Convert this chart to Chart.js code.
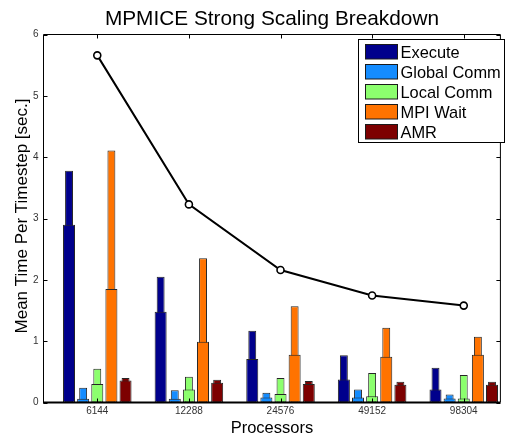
<!DOCTYPE html>
<html><head><meta charset="utf-8">
<script src="https://cdn.jsdelivr.net/npm/chart.js@4"></script>
<style>html,body{margin:0;padding:0;background:#fff;}#wrap{position:relative;width:506px;height:436px;}</style>
</head><body><div id="wrap"><canvas id="c" width="506" height="436"></canvas></div>
<script>
const chartTitle = 'MPMICE Strong Scaling Breakdown';
const xLabel = 'Processors';
const yLabel = 'Mean Time Per Timestep [sec.]';
const processors = ['6144', '12288', '24576', '49152', '98304'];
const seriesNames = ['Execute', 'Global Comm', 'Local Comm', 'MPI Wait', 'AMR'];
const seriesColors = ['#00008c', '#148cff', '#8cff6e', '#ff7300', '#7d0000'];
// wide bars (average) and narrow bars (maximum)
const executeAvg = [2.90, 1.48, 0.71, 0.375, 0.21];
const executeMax = [3.78, 2.05, 1.17, 0.77, 0.565];
const globalAvg = [0.06, 0.06, 0.08, 0.08, 0.065];
const globalMax = [0.24, 0.20, 0.16, 0.21, 0.13];
const localAvg = [0.30, 0.21, 0.14, 0.10, 0.065];
const localMax = [0.55, 0.42, 0.40, 0.48, 0.45];
const mpiAvg = [1.85, 0.99, 0.78, 0.745, 0.78];
const mpiMax = [4.11, 2.35, 1.57, 1.22, 1.07];
const amrAvg = [0.36, 0.32, 0.30, 0.29, 0.29];
const amrMax = [0.40, 0.37, 0.35, 0.34, 0.34];
const totalTime = [5.66, 3.23, 2.16, 1.745, 1.58];
const yTicks = [0, 1, 2, 3, 4, 5, 6];

const avgSeries = [executeAvg, globalAvg, localAvg, mpiAvg, amrAvg];
const maxSeries = [executeMax, globalMax, localMax, mpiMax, amrMax];
const FONT = '"Liberation Sans", Arial, Helvetica, sans-serif';
const toPts = arr => arr.map((v, i) => ({x: i + 1, y: v}));

const datasets = [];
datasets.push({
  type: 'line', label: 'Total', data: toPts(totalTime), order: 0,
  borderColor: '#000', borderWidth: 2, tension: 0, fill: false,
  pointRadius: 3.5, pointBorderWidth: 1.6, pointBackgroundColor: '#fff', pointBorderColor: '#000'
});
seriesNames.forEach((name, s) => {
  datasets.push({
    type: 'bar', label: name, data: toPts(avgSeries[s]), stack: name, order: 1, legendEntry: true,
    backgroundColor: seriesColors[s], borderColor: '#262626', borderWidth: 1, borderSkipped: false,
    categoryPercentage: 0.771, barPercentage: 0.85
  });
  datasets.push({
    type: 'bar', label: name + ' max', data: toPts(maxSeries[s]), stack: name, order: 2,
    backgroundColor: seriesColors[s], borderColor: '#262626', borderWidth: 1, borderSkipped: false,
    categoryPercentage: 0.771, barPercentage: 0.56
  });
});

const framePlugin = {
  id: 'frame',
  afterDatasetsDraw(chart) {
    const ctx = chart.ctx;
    const {left, right, top, bottom} = chart.chartArea;
    const xs = chart.scales.x, ys = chart.scales.y;
    ctx.save();
    ctx.strokeStyle = '#000';
    ctx.lineWidth = 1;
    ctx.beginPath();
    ctx.moveTo(left, top); ctx.lineTo(right, top);
    ctx.moveTo(left, top); ctx.lineTo(left, bottom);
    ctx.moveTo(right, top); ctx.lineTo(right, bottom);
    ys.ticks.forEach(t => {
      const py = Math.round(ys.getPixelForValue(t.value)) + 0.5;
      ctx.moveTo(left, py); ctx.lineTo(left + 4, py);
      ctx.moveTo(right, py); ctx.lineTo(right - 4, py);
    });
    xs.ticks.forEach(t => {
      const px = Math.round(xs.getPixelForValue(t.value)) + 0.5;
      ctx.moveTo(px, top); ctx.lineTo(px, top + 4);
      ctx.moveTo(px, bottom); ctx.lineTo(px, bottom - 4);
    });
    ctx.stroke();
    ctx.lineWidth = 2;
    ctx.beginPath();
    ctx.moveTo(left - 0.5, bottom); ctx.lineTo(right, bottom);
    ctx.stroke();
    ctx.restore();
  },
  afterDraw(chart) {
    const ctx = chart.ctx;
    const {left, right} = chart.chartArea;
    ctx.save();
    ctx.fillStyle = '#000';
    ctx.textBaseline = 'alphabetic';
    ctx.textAlign = 'center';
    ctx.font = '20.8px ' + FONT;
    ctx.fillText(chartTitle, (left + right) / 2, 25);
    ctx.font = '16.5px ' + FONT;
    ctx.fillText(xLabel, (left + right) / 2, 432.5);
    ctx.save();
    ctx.translate(27, 216);
    ctx.rotate(-Math.PI / 2);
    ctx.font = '17px ' + FONT;
    ctx.fillText(yLabel, 0, 0);
    ctx.restore();
    // legend
    const entries = chart.data.datasets.filter(d => d.legendEntry);
    const bx = 358.5, by = 39.5, bw = 146, bh = 103;
    ctx.fillStyle = '#fff';
    ctx.fillRect(bx, by, bw, bh);
    ctx.strokeStyle = '#000';
    ctx.lineWidth = 1;
    ctx.strokeRect(bx, by, bw, bh);
    ctx.font = '16.4px ' + FONT;
    ctx.textAlign = 'left';
    entries.forEach((d, i) => {
      const sy = 44.5 + 20 * i;
      ctx.fillStyle = d.backgroundColor;
      ctx.fillRect(365.5, sy, 32, 14.5);
      ctx.strokeStyle = '#1a1a1a';
      ctx.strokeRect(365.5, sy, 32, 14.5);
      ctx.fillStyle = '#000';
      ctx.fillText(d.label, 400.5, 57.5 + 20 * i);
    });
    ctx.restore();
  }
};

new Chart(document.getElementById('c'), {
  type: 'bar',
  data: {datasets},
  options: {
    responsive: false, animation: false, devicePixelRatio: 1,
    layout: {padding: {top: 34.5, right: -3.5, left: 0, bottom: 0}},
    plugins: {legend: {display: false}, tooltip: {enabled: false}, title: {display: false}},
    scales: {
      x: {
        type: 'linear', min: 0.413, max: 5.40, offset: false,
        grid: {display: false, drawTicks: false}, border: {display: false},
        afterBuildTicks: s => { s.ticks = processors.map((p, i) => ({value: i + 1})); },
        ticks: {callback: (v, i) => processors[i], font: {family: FONT, size: 10}, color: '#333', padding: 3, autoSkip: false, maxRotation: 0},
        afterFit: s => { s.height = 436 - 402.5; }
      },
      y: {
        type: 'linear', min: 0, max: 6, stacked: false,
        grid: {display: false, drawTicks: false}, border: {display: false},
        afterBuildTicks: s => { s.ticks = yTicks.map(v => ({value: v})); },
        ticks: {font: {family: FONT, size: 10}, color: '#333', padding: 5},
        afterFit: s => { s.width = 43.5; }
      }
    }
  },
  plugins: [framePlugin]
});
</script></body></html>
